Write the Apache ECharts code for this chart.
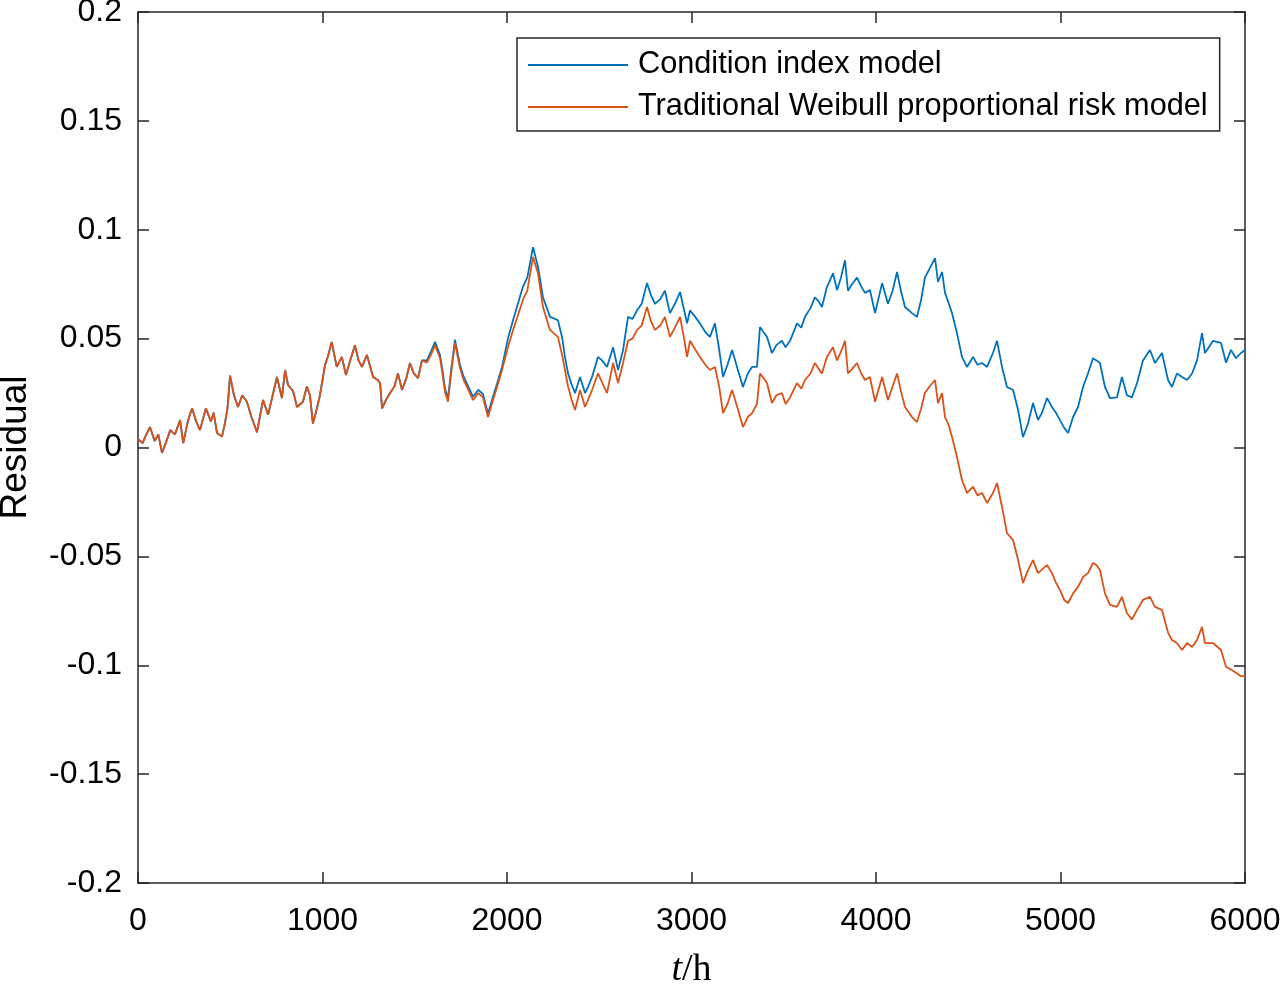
<!DOCTYPE html>
<html>
<head>
<meta charset="utf-8">
<script src="https://cdn.jsdelivr.net/npm/echarts@6/dist/echarts.min.js"></script>
<style>html,body{margin:0;padding:0;background:#fff}#c{width:1281px;height:986px}</style>
</head>
<body>
<div id="c"></div>
<script>
var seriesNames = ['Condition index model', 'Traditional Weibull proportional risk model'];
var yTicks = [-0.2, -0.15, -0.1, -0.05, 0, 0.05, 0.1, 0.15, 0.2];
var xTicks = [0, 1000, 2000, 3000, 4000, 5000, 6000];

var hours = [
0,25,45,65,90,110,130,150,175,200,
228,245,270,293,315,336,368,395,410,428,
455,471,485,499,520,542,565,590,615,645,
660,678,705,730,753,780,797,813,840,862,
894,915,932,948,970,986,1014,1030,1050,1077,
1105,1127,1150,1176,1195,1214,1241,1274,1300,1312,
1323,1345,1366,1390,1409,1431,1455,1474,1495,1518,
1539,1566,1590,1610,1637,1650,1664,1680,1700,1718,
1745,1765,1783,1816,1845,1870,1897,1924,1946,1973,
2005,2033,2087,2110,2141,2168,2195,2233,2276,2300,
2314,2331,2350,2369,2396,2423,2440,2461,2493,2515,
2542,2575,2602,2629,2656,2680,2705,2730,2759,2780,
2802,2830,2856,2883,2910,2938,2960,2976,2992,3020,
3046,3075,3100,3127,3150,3171,3195,3220,3250,3279,
3305,3328,3355,3371,3390,3409,3436,3460,3490,3510,
3534,3572,3595,3615,3645,3669,3690,3707,3734,3767,
3789,3810,3832,3848,3870,3897,3920,3940,3967,3995,
4033,4065,4090,4114,4135,4157,4195,4222,4245,4265,
4290,4320,4336,4358,4374,4395,4412,4439,4466,4493,
4526,4550,4575,4602,4634,4656,4683,4710,4743,4770,
4797,4824,4851,4878,4900,4927,4954,4975,4997,5020,
5041,5068,5095,5122,5149,5176,5195,5214,5241,5268,
5306,5333,5360,5387,5415,5447,5485,5512,5550,5583,
5604,5631,5659,5686,5713,5740,5767,5783,5827,5870,
5897,5924,5951,5978,6000
];

var conditionIndex = [
0.004,0.002,0.006,0.0094,0.003,0.006,-0.0025,0.002,0.008,0.006,
0.0126,0.002,0.012,0.018,0.012,0.008,0.018,0.012,0.016,0.0067,
0.005,0.011,0.018,0.033,0.024,0.0186,0.024,0.021,0.014,0.007,
0.014,0.0218,0.015,0.024,0.0324,0.0227,0.0356,0.0287,0.026,0.0186,
0.021,0.028,0.024,0.011,0.018,0.024,0.038,0.042,0.0485,0.037,
0.0416,0.0333,0.040,0.047,0.040,0.037,0.0425,0.0324,0.031,0.0296,
0.018,0.022,0.025,0.028,0.034,0.0264,0.032,0.0388,0.034,0.0319,
0.040,0.040,0.0445,0.0485,0.0425,0.0355,0.027,0.0225,0.0375,0.0495,
0.038,0.0325,0.0293,0.0233,0.0265,0.0245,0.0155,0.0233,0.0293,0.037,
0.050,0.0585,0.074,0.078,0.092,0.083,0.069,0.060,0.0585,0.050,
0.0416,0.034,0.029,0.025,0.0324,0.025,0.028,0.0324,0.0416,0.040,
0.037,0.046,0.0356,0.0448,0.060,0.059,0.063,0.066,0.0755,0.070,
0.066,0.068,0.072,0.0617,0.066,0.0714,0.063,0.057,0.063,0.060,
0.057,0.053,0.0508,0.057,0.045,0.0324,0.038,0.0448,0.036,0.0278,
0.034,0.037,0.037,0.0553,0.053,0.0508,0.0434,0.047,0.049,0.046,
0.049,0.057,0.055,0.060,0.064,0.069,0.067,0.0645,0.0737,0.080,
0.0723,0.078,0.086,0.072,0.075,0.078,0.074,0.071,0.0723,0.0617,
0.0755,0.066,0.072,0.0806,0.072,0.0645,0.0617,0.060,0.068,0.078,
0.082,0.087,0.076,0.0806,0.071,0.066,0.0617,0.0525,0.0416,0.037,
0.0416,0.038,0.0388,0.037,0.0434,0.049,0.037,0.0278,0.0264,0.0172,
0.0048,0.011,0.0204,0.0126,0.016,0.0227,0.0186,0.016,0.0126,0.009,
0.0067,0.014,0.0186,0.0278,0.034,0.041,0.040,0.0388,0.0278,0.0227,
0.023,0.0324,0.024,0.023,0.0296,0.040,0.0448,0.0388,0.0434,0.031,
0.0278,0.034,0.0324,0.031,0.034,0.040,0.0525,0.0434,0.049,0.048,
0.039,0.0448,0.041,0.0434,0.0448
];

var traditionalWeibull = [
0.004,0.002,0.006,0.0094,0.003,0.006,-0.0025,0.002,0.008,0.006,
0.0126,0.002,0.012,0.018,0.012,0.008,0.018,0.012,0.016,0.0067,
0.005,0.011,0.018,0.033,0.024,0.0186,0.024,0.021,0.014,0.007,
0.014,0.0218,0.015,0.024,0.0324,0.0227,0.0356,0.0287,0.026,0.0186,
0.021,0.028,0.024,0.011,0.018,0.024,0.038,0.042,0.0485,0.037,
0.0416,0.0333,0.040,0.047,0.040,0.037,0.0425,0.0324,0.031,0.0296,
0.018,0.022,0.025,0.028,0.034,0.0264,0.032,0.0388,0.034,0.0319,
0.040,0.039,0.043,0.047,0.041,0.034,0.0255,0.021,0.036,0.048,
0.0365,0.031,0.0278,0.0218,0.025,0.023,0.014,0.0218,0.0278,0.0356,
0.046,0.054,0.068,0.072,0.0875,0.080,0.0645,0.054,0.0508,0.042,
0.0356,0.028,0.022,0.0172,0.0264,0.0186,0.022,0.0264,0.034,0.030,
0.025,0.0388,0.0296,0.0388,0.049,0.050,0.054,0.056,0.0645,0.058,
0.054,0.056,0.060,0.0508,0.055,0.060,0.050,0.0416,0.049,0.045,
0.0416,0.038,0.0356,0.037,0.028,0.0158,0.020,0.0264,0.018,0.0094,
0.014,0.0158,0.020,0.034,0.032,0.0296,0.0204,0.024,0.025,0.020,
0.023,0.0296,0.027,0.031,0.034,0.0388,0.036,0.034,0.0416,0.046,
0.040,0.044,0.049,0.034,0.036,0.0388,0.034,0.031,0.0324,0.021,
0.0324,0.0218,0.028,0.034,0.026,0.0186,0.014,0.0117,0.018,0.025,
0.028,0.031,0.0204,0.025,0.014,0.010,0.0048,-0.0044,-0.0149,-0.0209,
-0.018,-0.022,-0.0209,-0.0255,-0.0209,-0.0163,-0.0273,-0.0393,-0.0425,-0.0517,
-0.0622,-0.0563,-0.0517,-0.0577,-0.056,-0.054,-0.0577,-0.062,-0.0654,-0.070,
-0.0714,-0.067,-0.064,-0.0595,-0.0577,-0.053,-0.054,-0.0563,-0.067,-0.0723,
-0.0732,-0.0686,-0.076,-0.079,-0.0746,-0.070,-0.0686,-0.0732,-0.0746,-0.085,
-0.0884,-0.0898,-0.093,-0.0898,-0.0916,-0.0884,-0.0824,-0.0898,-0.0898,-0.093,
-0.1007,-0.102,-0.1035,-0.105,-0.105
];

function pairs(xs, ys) { return xs.map(function (x, i) { return [x, ys[i]]; }); }

var FONT = 'Liberation Sans, Arial, Helvetica, sans-serif';
var SERIF = 'Liberation Serif, DejaVu Serif, serif';
var axisCol = '#262626';

var chart = echarts.init(document.getElementById('c'), null, {renderer: 'canvas'});
var baseX = {
  type: 'value', min: xTicks[0], max: xTicks[xTicks.length - 1], interval: 1000,
  axisLine: {show: true, onZero: false, lineStyle: {color: axisCol, width: 1.5}},
  axisTick: {show: true, inside: true, length: 11, lineStyle: {color: axisCol, width: 1.5}},
  splitLine: {show: false}
};
var baseY = {
  type: 'value', min: yTicks[0], max: yTicks[yTicks.length - 1], interval: 0.05,
  axisLine: {show: true, onZero: false, lineStyle: {color: axisCol, width: 1.5}},
  axisTick: {show: true, inside: true, length: 11, lineStyle: {color: axisCol, width: 1.5}},
  splitLine: {show: false}
};

chart.setOption({
  animation: false,
  backgroundColor: '#fff',
  grid: {left: 138, right: 36, top: 12, bottom: 103, containLabel: false, outerBoundsMode: 'none'},
  legend: {
    orient: 'vertical', left: 517, top: 38,
    backgroundColor: '#fff', borderColor: '#262626', borderWidth: 1.5,
    padding: [9, 12, 6, 11], itemGap: 6, itemWidth: 100, itemHeight: 2,
    icon: 'rect',
    textStyle: {fontFamily: FONT, fontSize: 30.7, lineHeight: 36, color: '#000', padding: [0, 0, 0, 5]},
    data: seriesNames
  },
  xAxis: [
    Object.assign({}, baseX, {
      position: 'bottom',
      axisLabel: {show: true, margin: 22, fontFamily: FONT, fontSize: 32, color: '#000',
        formatter: function (v) { return String(v); }},
      name: '{i|t}/h', nameLocation: 'middle', nameGap: 68,
      nameTextStyle: {fontFamily: SERIF, fontSize: 38, color: '#000',
        rich: {i: {fontStyle: 'italic', fontFamily: SERIF, fontSize: 38, color: '#000'}}}
    }),
    Object.assign({}, baseX, {position: 'top', axisLabel: {show: false}})
  ],
  yAxis: [
    Object.assign({}, baseY, {
      position: 'left',
      axisLabel: {show: true, margin: 16, fontFamily: FONT, fontSize: 32, color: '#000'},
      name: 'Residual', nameLocation: 'middle', nameGap: 104, nameRotate: 90,
      nameTextStyle: {fontFamily: FONT, fontSize: 37, color: '#000'}
    }),
    Object.assign({}, baseY, {position: 'right', axisLabel: {show: false}})
  ],
  series: [
    {name: seriesNames[0], type: 'line', data: pairs(hours, conditionIndex), showSymbol: false, symbol: 'none',
      lineStyle: {color: '#0072BD', width: 1.8}, itemStyle: {color: '#0072BD'}},
    {name: seriesNames[1], type: 'line', data: pairs(hours, traditionalWeibull), showSymbol: false, symbol: 'none',
      lineStyle: {color: '#D95319', width: 1.8}, itemStyle: {color: '#D95319'}}
  ]
});
</script>
</body>
</html>
